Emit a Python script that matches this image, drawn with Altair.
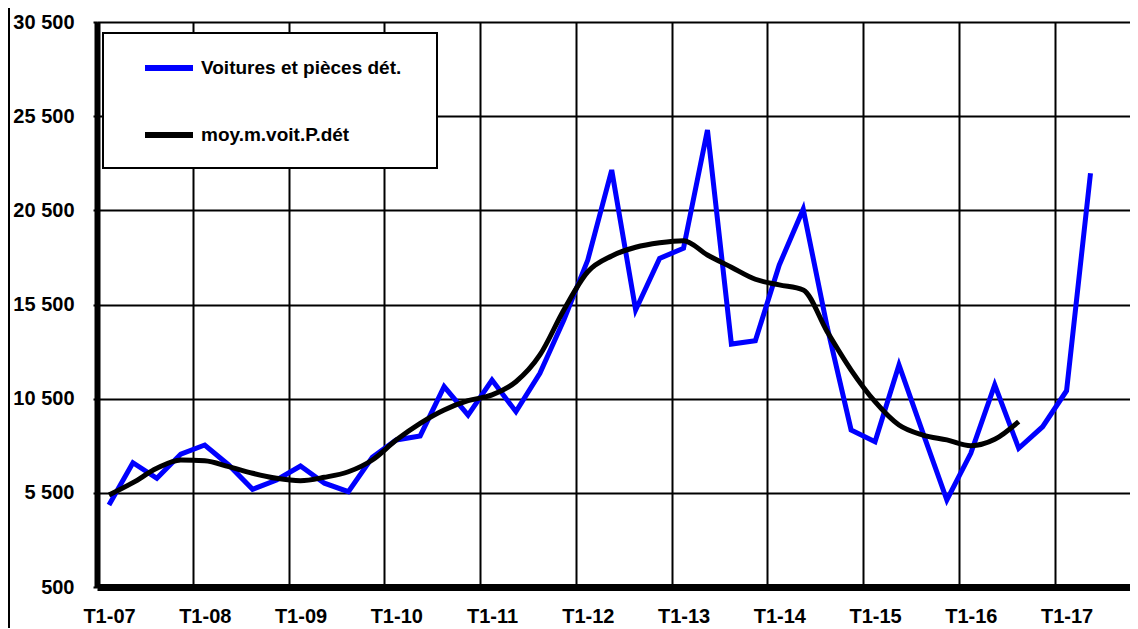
import altair as alt
import pandas as pd

# ---- data ----
x_labels = ["T1-07", "T1-08", "T1-09", "T1-10", "T1-11", "T1-12",
            "T1-13", "T1-14", "T1-15", "T1-16", "T1-17"]

series_names = ["Voitures et pièces dét.", "moy.m.voit.P.dét"]

voitures = [4850, 7100, 6270, 7560, 8040, 6980, 5690, 6180, 6925, 6010,
            5560, 7390, 8310, 8520, 11140, 9630, 11490, 9810, 11850, 14680,
            17860, 22640, 15210, 17950, 18490, 24770, 13400, 13580, 17600, 20560,
            14310, 8840, 8215, 12290, 8680, 5120, 7600, 11230, 7865, 9010,
            10920, 22470]

moyenne = [5385, 6040, 6800, 7245, 7200, 6890, 6540, 6270, 6145, 6325,
           6620, 7245, 8305, 9190, 9900, 10390, 10700, 11400, 12820, 15210,
           17240, 18080, 18540, 18780, 18890, 18130, 17480, 16840, 16540, 16270,
           14060, 12020, 10340, 9100, 8570, 8310, 8000, 8340, 9280]

y_ticks = [500, 5500, 10500, 15500, 20500, 25500, 30500]

rows = []
for i, v in enumerate(voitures):
    rows.append({"idx": i, "value": v, "series": series_names[0]})
for i, v in enumerate(moyenne):
    rows.append({"idx": i, "value": v, "series": series_names[1]})
df = pd.DataFrame(rows)

W, H = 1033, 565
FONT = "Liberation Sans"

x_scale = alt.Scale(domain=[0, 43.15], nice=False, zero=False)
y_scale = alt.Scale(domain=[500, 30500], nice=False, zero=False)
color_scale = alt.Scale(domain=series_names, range=["#0000FF", "#000000"])

label_expr = "[" + ",".join("'%s'" % l for l in x_labels) + "][round(datum.value/4)]"

x_axis = alt.Axis(
    values=[4 * k for k in range(len(x_labels))],
    labelExpr=label_expr,
    title=None,
    grid=True, gridColor="black", gridWidth=2, gridOpacity=1,
    domain=True, domainColor="black", domainWidth=7,
    ticks=False,
    labelOffset=12, labelPadding=19,
    labelFont=FONT, labelFontSize=20, labelFontWeight="bold", labelColor="black",
    labelBaseline="top", labelAlign="center",
)
y_axis = alt.Axis(
    values=y_ticks,
    labelExpr="replace(format(datum.value, ','), ',', ' ')",
    title=None,
    grid=True, gridColor="black", gridWidth=2, gridOpacity=1,
    domain=True, domainColor="black", domainWidth=6,
    ticks=True, tickSize=4, tickWidth=2, tickColor="black",
    labelPadding=19,
    labelFont=FONT, labelFontSize=20, labelFontWeight="bold", labelColor="black",
)

legend = alt.Legend(
    title=None, orient="none", legendX=6, legendY=11,
    padding=8,
    symbolType="stroke", symbolStrokeWidth=6, symbolSize=2304,
    symbolOffset=31, labelOffset=5, rowPadding=28,
    labelFont=FONT, labelFontSize=19, labelFontWeight="bold", labelColor="black",
    labelLimit=400,
)

base = alt.Chart(df).transform_calculate(pos="datum.idx + 0.5")

blue = base.transform_filter(alt.datum.series == series_names[0]).mark_line(
    strokeWidth=5, strokeJoin="miter"
).encode(
    x=alt.X("pos:Q", scale=x_scale, axis=x_axis),
    y=alt.Y("value:Q", scale=y_scale, axis=y_axis),
    color=alt.Color("series:N", scale=color_scale, legend=legend),
)

black = base.transform_filter(alt.datum.series == series_names[1]).mark_line(
    strokeWidth=5, interpolate="monotone"
).encode(
    x=alt.X("pos:Q", scale=x_scale, axis=x_axis),
    y=alt.Y("value:Q", scale=y_scale, axis=y_axis),
    color=alt.Color("series:N", scale=color_scale, legend=legend),
)

one = alt.Data(values=[{"a": 0}])

# outer chart-area border on the left
border = alt.Chart(one).mark_rule(color="black", strokeWidth=2).encode(
    x=alt.value(-88), y=alt.value(-30), y2=alt.value(H + 80)
)

# legend frame
legend_box = alt.Chart(one).mark_rect(
    fill="white", stroke="black", strokeWidth=2
).encode(
    x=alt.value(6), x2=alt.value(340), y=alt.value(11), y2=alt.value(146)
)

chart = alt.layer(border, legend_box, blue, black).properties(
    width=W, height=H,
    autosize=alt.AutoSizeParams(type="none"),
    padding={"left": 89, "top": 14, "right": 0, "bottom": 41},
    background="white",
).configure_view(stroke=None)

chart.save("out.html", embed_options={"renderer": "svg", "actions": False})
